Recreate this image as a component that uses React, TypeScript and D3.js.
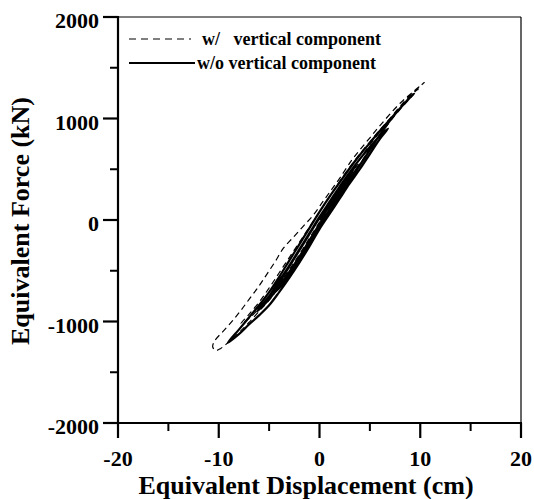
import React from "react";
import * as d3 from "d3";

// Equivalent displacement (cm) / force (kN) traces
const withVertical: [number, number][] = [
  [0, 0], [1, 150], [2, 300], [3, 450], [4, 600], [5, 740], [6, 870], [7, 1000], [8, 1120], [9, 1230], [10, 1320], [10.4, 1355],
  [9.5, 1280], [8, 1150], [6, 930], [5, 810], [4, 690], [3.2, 590], [2, 410], [1.2, 300], [0.4, 190], [-0.6, 50], [-1.6, -60],
  [-2.6, -170], [-3.6, -280], [-4.4, -410], [-5.2, -530], [-6, -650], [-6.9, -770], [-7.8, -890], [-8.6, -990], [-9.5, -1090],
  [-10.4, -1190], [-10.6, -1250], [-10.3, -1285],
  [-9.8, -1265], [-9, -1200], [-8, -1110], [-7, -1010], [-6, -900], [-5, -790], [-4, -660], [-3, -520], [-2, -370], [-1, -210],
  [0, -50], [1, 100], [2, 250], [3, 400], [4, 550], [5, 700], [6, 840], [7, 970], [8, 1090], [9, 1200], [9.8, 1290],
  [9, 1220], [8, 1110], [7, 1000], [6, 890], [5, 770], [4, 650], [3, 520], [2, 380], [1, 230], [0, 80], [-1, -70], [-2, -220],
  [-3, -370], [-4, -520], [-5, -670], [-6, -810], [-7, -930], [-7.8, -1020],
  [-7, -970], [-6, -870], [-5, -760], [-4, -630], [-3, -490], [-2, -340], [-1, -180], [0, -20], [1, 130], [2, 280], [3, 430], [3.8, 550],
];

const withoutVertical: [number, number][] = [
  [0, 0], [1, 140], [2, 290], [3, 440], [3.6, 540],
  [3, 460], [2, 320], [1, 170], [0, 20], [-1, -140], [-2, -300], [-3, -460], [-4, -620], [-4.6, -720],
  [-4, -670], [-3, -530], [-2, -380], [-1, -220], [0, -60], [1, 90], [2, 240], [3, 390], [4, 540], [5, 690], [6, 840], [7, 980], [8, 1100], [9.3, 1240],
  [8, 1100], [7, 990], [6, 880], [5, 760], [4, 640], [3, 510], [2, 370], [1, 230], [0, 80], [-1, -80], [-2, -240], [-3, -400],
  [-4, -560], [-5, -710], [-6, -840], [-7, -960], [-8, -1080], [-9.1, -1210],
  [-8, -1125], [-7, -1030], [-6, -940], [-5, -840], [-4, -710], [-3, -570], [-2, -420], [-1, -260], [0, -90], [1, 60], [2, 210],
  [3, 360], [4, 500], [5, 650], [6, 800], [6.8, 900],
  [6, 830], [5, 720], [4, 600], [3, 470], [2, 330], [1, 180], [0, 30], [-1, -130], [-2, -290], [-3, -450], [-4, -600], [-5, -750], [-6.2, -900],
  [-5, -780], [-4, -650], [-3, -510], [-2, -360], [-1, -200], [0, -40], [1, 100], [2, 250], [3, 400], [4, 550],
];

const xMajorTicks = [-20, -10, 0, 10, 20];
const xMinorTicks = [-15, -5, 5, 15];
const yMajorTicks = [-2000, -1000, 0, 1000, 2000];
const yMinorTicks = [-1500, -500, 500, 1500];

const seriesLabels = ["w/   vertical component", "w/o vertical component"];
const xTitle = "Equivalent Displacement (cm)";
const yTitle = "Equivalent Force (kN)";

export default function App() {
  const W = 534, H = 499;
  const left = 118, right = 521, top = 17, bottom = 423;
  const x = d3.scaleLinear().domain([-20, 20]).range([left, right]);
  const y = d3.scaleLinear().domain([-2000, 2000]).range([bottom, top]);
  const line = d3
    .line<[number, number]>()
    .x((d) => x(d[0]))
    .y((d) => y(d[1]))
    .curve(d3.curveCatmullRom.alpha(0.5));
  const font = "'Liberation Serif', 'Times New Roman', serif";

  return (
    <svg width={W} height={H} style={{ display: "block", position: "absolute", left: 0, top: 0 }}>
      <rect x={0} y={0} width={W} height={H} fill="#fff" />
      {/* frame */}
      <line x1={left} x2={right} y1={top} y2={top} stroke="#000" strokeWidth={1.2} />
      <line x1={right} x2={right} y1={top} y2={bottom} stroke="#000" strokeWidth={1.2} />
      <line x1={left} x2={left} y1={top - 1} y2={bottom + 1} stroke="#000" strokeWidth={2.2} />
      <line x1={left - 1} x2={right + 1} y1={bottom} y2={bottom} stroke="#000" strokeWidth={2.2} />
      {/* ticks */}
      {xMajorTicks.map((t) => (
        <line key={"xm" + t} x1={x(t)} x2={x(t)} y1={bottom} y2={bottom + 15} stroke="#000" strokeWidth={2.2} />
      ))}
      {xMinorTicks.map((t) => (
        <line key={"xn" + t} x1={x(t)} x2={x(t)} y1={bottom} y2={bottom + 8} stroke="#000" strokeWidth={2} />
      ))}
      {yMajorTicks.map((t) => (
        <line key={"ym" + t} x1={left - 15} x2={left} y1={y(t)} y2={y(t)} stroke="#000" strokeWidth={2.2} />
      ))}
      {yMinorTicks.map((t) => (
        <line key={"yn" + t} x1={left - 8} x2={left} y1={y(t)} y2={y(t)} stroke="#000" strokeWidth={2} />
      ))}
      {/* tick labels */}
      {xMajorTicks.map((t) => (
        <text key={"xl" + t} x={x(t)} y={466} textAnchor="middle" fontFamily={font} fontWeight="bold" fontSize={22}>
          {t}
        </text>
      ))}
      {yMajorTicks.map((t) => (
        <text key={"yl" + t} x={99} y={y(t) + 11} textAnchor="end" fontFamily={font} fontWeight="bold" fontSize={22}>
          {t}
        </text>
      ))}
      {/* axis titles */}
      <text x={306} y={494} textAnchor="middle" fontFamily={font} fontWeight="bold" fontSize={26}>
        {xTitle}
      </text>
      <text
        transform={`translate(29, 221) rotate(-90)`}
        textAnchor="middle"
        fontFamily={font}
        fontWeight="bold"
        fontSize={26}
      >
        {yTitle}
      </text>
      {/* curves */}
      <path d={line(withoutVertical) || ""} fill="none" stroke="#000" strokeWidth={2.2} strokeLinejoin="round" />
      <path d={line(withVertical) || ""} fill="none" stroke="#000" strokeWidth={1.2} strokeDasharray="6 4" />
      {/* legend */}
      <line x1={129} x2={191} y1={39} y2={39} stroke="#000" strokeWidth={1.2} strokeDasharray="7 5" />
      <text x={202} y={45} fontFamily={font} fontWeight="bold" fontSize={18} style={{ whiteSpace: "pre" }}>
        {seriesLabels[0]}
      </text>
      <line x1={129} x2={195} y1={63} y2={63} stroke="#000" strokeWidth={2.2} />
      <text x={197} y={69} fontFamily={font} fontWeight="bold" fontSize={18} style={{ whiteSpace: "pre" }}>
        {seriesLabels[1]}
      </text>
    </svg>
  );
}
